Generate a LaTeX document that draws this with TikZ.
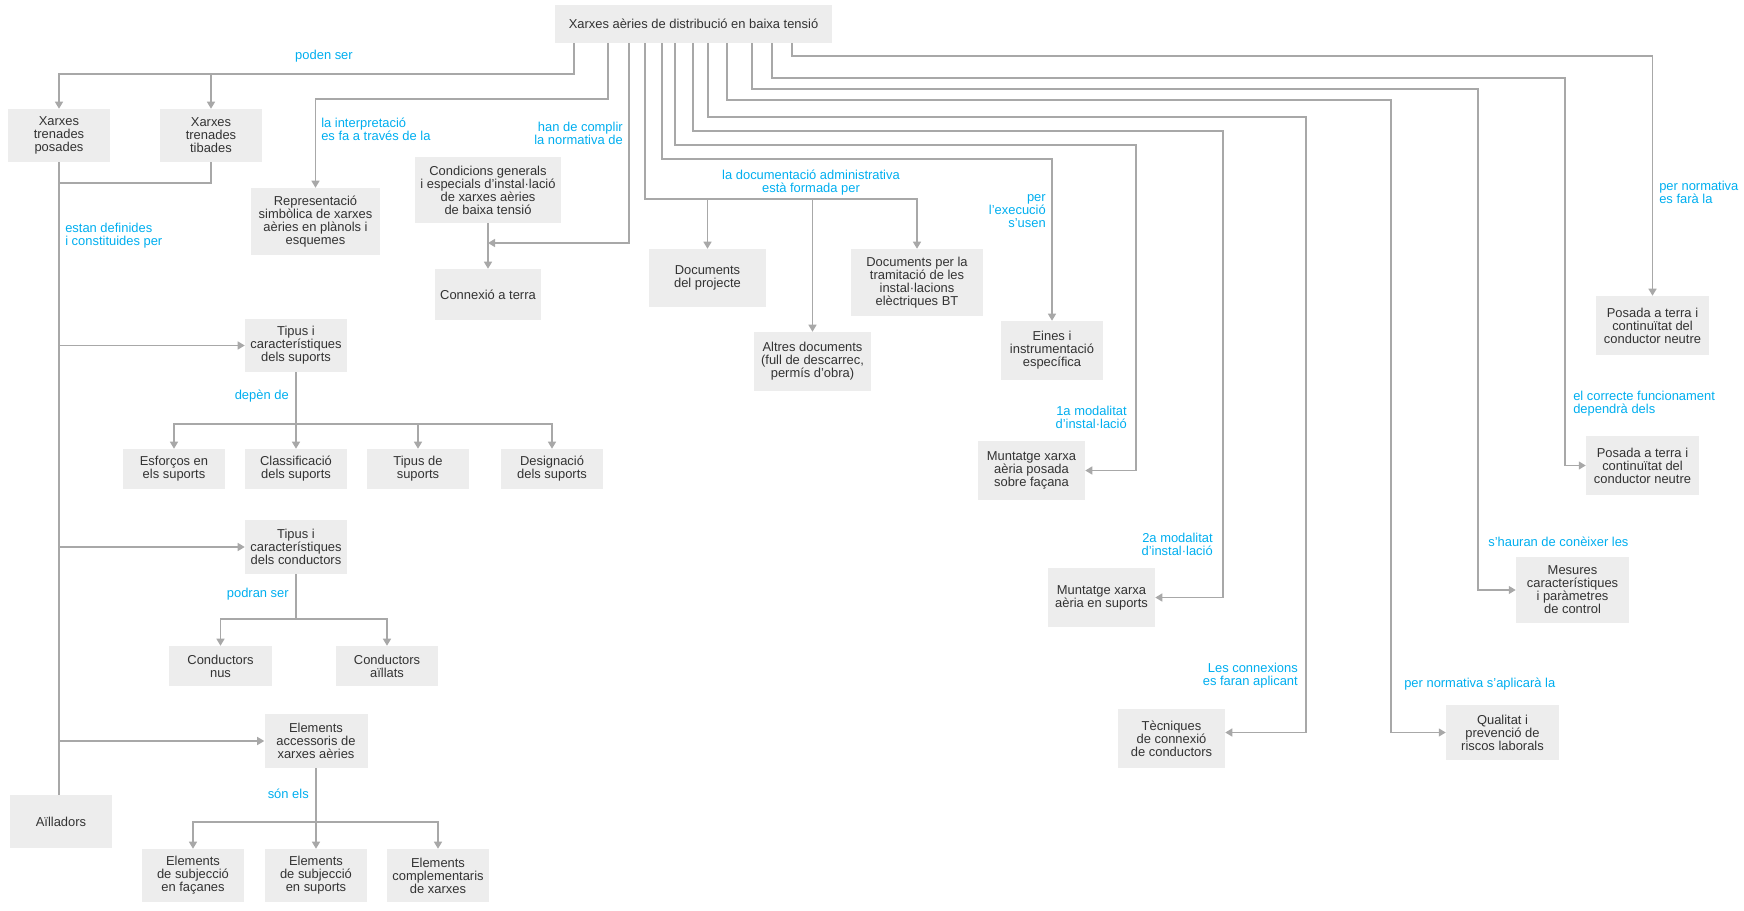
\documentclass[tikz,border=0pt]{standalone}
\usepackage{fontspec}
\setmainfont{Liberation Sans}
\usetikzlibrary{arrows.meta}
\definecolor{boxfill}{HTML}{EDEDED}
\definecolor{lnc}{HTML}{A8A8A8}
\definecolor{lblc}{HTML}{00AEEF}
\definecolor{txtc}{HTML}{333333}
\begin{document}
\begin{tikzpicture}[x=0.75pt,y=-0.75pt,
  font=\fontsize{9.7}{9.75}\selectfont,
  box/.style={fill=boxfill, text=txtc, align=center, inner sep=0pt},
  wh/.style 2 args={minimum width=#1*0.75pt, minimum height=#2*0.75pt},
  lbl/.style={text=lblc, inner sep=0pt},
  ln/.style={draw=lnc, line width=1pt},
  arr/.style={ln, -{Triangle[length=5.25pt,width=6pt]}}]
\useasboundingbox (0,0) rectangle (1744,910);

% boxes
\node[box, wh={277}{38}] (title) at (693.5,24) {Xarxes aèries de distribució en baixa tensió};
\node[box, wh={102}{53}] (posades) at (59,135.5) {Xarxes\\trenades\\posades};
\node[box, wh={102}{53}] (tibades) at (211,135.5) {Xarxes\\trenades\\tibades};
\node[box, wh={129}{67}] (repr) at (315.5,221.5) {Representació\\simbòlica de xarxes\\aèries en plànols i\\esquemes};
\node[box, wh={146}{66}] (cond) at (488,190) {Condicions generals\\i especials d'instal·lació\\de xarxes aèries\\de baixa tensió};
\node[box, wh={106}{51}] (connexio) at (488,294.5) {Connexió a terra};
\node[box, wh={117}{58}] (docproj) at (707.5,278) {Documents\\del projecte};
\node[box, wh={132}{67}] (docper) at (917,282.5) {Documents per la\\tramitació de les\\instal·lacions\\elèctriques BT};
\node[box, wh={117}{59}] (altres) at (812.5,361.5) {Altres documents\\(full de descarrec,\\permís d'obra)};
\node[box, wh={102}{59}] (eines) at (1052,350.5) {Eines i\\instrumentació\\específica};
\node[box, wh={113}{59}] (posada1) at (1652.5,325.5) {Posada a terra i\\continuïtat del\\conductor neutre};
\node[box, wh={113}{59}] (posada2) at (1642.5,465.5) {Posada a terra i\\continuïtat del\\conductor neutre};
\node[box, wh={113}{66}] (mesures) at (1572.5,590) {Mesures\\característiques\\i paràmetres\\de control};
\node[box, wh={113}{55}] (qualitat) at (1502.5,732.5) {Qualitat i\\prevenció de\\riscos laborals};
\node[box, wh={107}{59}] (tecniques) at (1171.5,738.5) {Tècniques\\de connexió\\de conductors};
\node[box, wh={107}{59}] (munt1) at (1031.5,470.5) {Muntatge xarxa\\aèria posada\\sobre façana};
\node[box, wh={107}{59}] (munt2) at (1101.5,597.5) {Muntatge xarxa\\aèria en suports};
\node[box, wh={102}{53}] (tsup) at (296,345.5) {Tipus i\\característiques\\dels suports};
\node[box, wh={102}{40}] (esf) at (174,469) {Esforços en\\els suports};
\node[box, wh={102}{40}] (cls) at (296,469) {Classificació\\dels suports};
\node[box, wh={102}{40}] (tip) at (418,469) {Tipus de\\suports};
\node[box, wh={102}{40}] (des) at (552,469) {Designació\\dels suports};
\node[box, wh={102}{54}] (tcond) at (296,547) {Tipus i\\característiques\\dels conductors};
\node[box, wh={103}{40}] (nus) at (220.5,666) {Conductors\\nus};
\node[box, wh={102}{40}] (aill) at (387,666) {Conductors\\aïllats};
\node[box, wh={103}{54}] (elacc) at (316,741) {Elements\\accessoris de\\xarxes aèries};
\node[box, wh={102}{53}] (ailladors) at (61,821.5) {Aïlladors};
\node[box, wh={102}{53}] (elfac) at (193,875.5) {Elements\\de subjecció\\en façanes};
\node[box, wh={102}{53}] (elsup) at (316,875.5) {Elements\\de subjecció\\en suports};
\node[box, wh={102}{53}] (elcom) at (438,875.5) {Elements\\complementaris\\de xarxes};

% labels
\node[lbl] (l1) at (324,56) {poden ser};
\node[lbl, anchor=west, align=left] (l2) at (65,235.5) {estan definides\\i constituides per};
\node[lbl, anchor=west, align=left] (l3) at (321,129.5) {la interpretació\\es fa a través de la};
\node[lbl, anchor=east, align=right] (l4) at (623,133) {han de complir\\la normativa de};
\node[lbl, align=center] (l5) at (811,182.5) {la documentació administrativa\\està formada per};
\node[lbl, anchor=east, align=right] (l6) at (1046,211) {per\\l'execució\\s'usen};
\node[lbl, anchor=east, align=right] (l7) at (1127,417.5) {1a modalitat\\d'instal·lació};
\node[lbl, anchor=east, align=right] (l8) at (1213,544.5) {2a modalitat\\d'instal·lació};
\node[lbl, anchor=east, align=right] (l9) at (1298,675.5) {Les connexions\\es faran aplicant};
\node[lbl, anchor=west] (l10) at (1404,684) {per normativa s'aplicarà la};
\node[lbl, anchor=west] (l11) at (1488,542) {s'hauran de conèixer les};
\node[lbl, anchor=west, align=left] (l12) at (1573,403.5) {el correcte funcionament\\dependrà dels};
\node[lbl, anchor=west, align=left] (l13) at (1659,192.5) {per normativa\\es farà la};
\node[lbl, anchor=east] (l14) at (289,396) {depèn de};
\node[lbl, anchor=east] (l15) at (289,594) {podran ser};
\node[lbl, anchor=east] (l16) at (309,794) {són els};

% drop points on title
\coordinate (t1) at (574,43);
\coordinate (t2) at (608,43);
\coordinate (t3) at (629,43);
\coordinate (t4) at (645,43);
\coordinate (t5) at (662,43);
\coordinate (t6) at (675,43);
\coordinate (t7) at (693,43);
\coordinate (t8) at (708,43);
\coordinate (t9) at (727,43);
\coordinate (t10) at (752,43);
\coordinate (t11) at (772,43);
\coordinate (t12) at (792,43);
% bends
\coordinate (b1) at (574,74);
\coordinate (b2) at (59,183);
\coordinate (b3) at (608,99);
\coordinate (b4) at (629,243);
\coordinate (b5) at (645,199);
\coordinate (b6) at (662,159);
\coordinate (b7) at (675,145);  \coordinate (c7) at (1136,145);
\coordinate (b8) at (693,131);  \coordinate (c8) at (1223,131);
\coordinate (b9) at (708,117);  \coordinate (c9) at (1306,117);
\coordinate (b10) at (727,100); \coordinate (c10) at (1391,100);
\coordinate (b11) at (752,89);  \coordinate (c11) at (1478,89);
\coordinate (b12) at (772,78);  \coordinate (c12) at (1565,78);
\coordinate (b13) at (792,56);
\coordinate (b14) at (296,424);
\coordinate (b15) at (296,619);
\coordinate (b16) at (316,822);

% connectors
\draw[arr] (t1) -- (b1) -| (posades.north);
\draw[arr] (tibades.north |- b1) -- (tibades.north);
\draw[ln] (tibades.south) |- (b2);
\draw[ln] (posades.south) -- (posades.south |- ailladors.north);
\draw[arr] (posades.south |- tsup.west) -- (tsup.west);
\draw[arr] (posades.south |- tcond.west) -- (tcond.west);
\draw[arr] (posades.south |- elacc.west) -- (elacc.west);

\draw[arr] (t2) -- (b3) -| (repr.north);
\draw[arr] (t3) -- (b4) -- (cond.south |- b4);
\draw[arr] (cond.south) -- (connexio.north);

\draw[arr] (t4) -- (b5) -| (docper.north);
\draw[arr] (docproj.north |- b5) -- (docproj.north);
\draw[arr] (altres.north |- b5) -- (altres.north);

\draw[arr] (t5) -- (b6) -| (eines.north);
\draw[arr] (t6) -- (b7) -- (c7) |- (munt1.east);
\draw[arr] (t7) -- (b8) -- (c8) |- (munt2.east);
\draw[arr] (t8) -- (b9) -- (c9) |- (tecniques.east |- qualitat.west);
\draw[arr] (t9) -- (b10) -- (c10) |- (qualitat.west);
\draw[arr] (t10) -- (b11) -- (c11) |- (mesures.west);
\draw[arr] (t11) -- (b12) -- (c12) |- (posada2.west);
\draw[arr] (t12) -- (b13) -| (posada1.north);

\draw[arr] (tsup.south) -- (cls.north);
\draw[arr] (b14) -| (esf.north);
\draw[arr] (b14) -| (des.north);
\draw[arr] (tip.north |- b14) -- (tip.north);

\draw[ln] (tcond.south) -- (b15);
\draw[arr] (b15) -| (nus.north);
\draw[arr] (b15) -| (aill.north);

\draw[arr] (elacc.south) -- (elsup.north);
\draw[arr] (b16) -| (elfac.north);
\draw[arr] (b16) -| (elcom.north);
\end{tikzpicture}
\end{document}
